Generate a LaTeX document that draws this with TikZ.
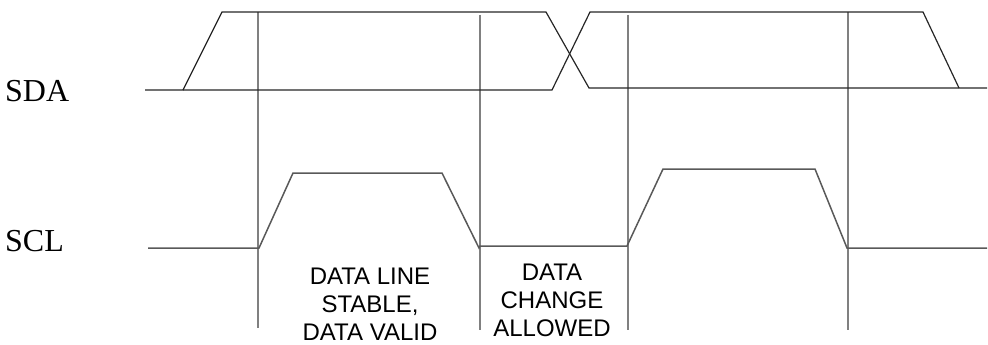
\documentclass[tikz,border=0pt]{standalone}
\usepackage{fontspec}
\setmainfont{Liberation Serif}
\newfontfamily\labelsans{Liberation Sans}
\begin{document}
\begin{tikzpicture}[x=1pt,y=-1pt,
  sda/.style={line width=1.2pt,black!85},
  scl/.style={line width=1.5pt,black!65},
  guide/.style={line width=1.7pt,black!50},
  siglabel/.style={anchor=base west,inner sep=0pt,font=\fontsize{32}{32}\selectfont},
  note/.style={anchor=north,inner sep=0pt,align=center,font=\labelsans\fontsize{24}{28}\selectfont}]
\useasboundingbox (0,0) rectangle (988,345);
% guide verticals
\draw[guide] (258,12) -- (258,328);
\draw[guide] (480,15) -- (480,330);
\draw[guide] (628,15) -- (628,330);
\draw[guide] (848,12) -- (848,330);
% SDA
\draw[sda] (145,90) -- (183,90) -- (222,12) -- (546,12) -- (589,88) -- (987,88);
\draw[sda] (183,90) -- (552,90) -- (590,12) -- (923,12) -- (959,88);
% SCL
\draw[scl] (148,248) -- (259,248) -- (293,173) -- (442,173) -- (479,248) -- (480,246) -- (627,246) -- (663,169) -- (815,169) -- (847,248) -- (987,248);
% labels
\node[siglabel] (sda) at (5,102) {SDA};
\node[siglabel] (scl) at (5,251) {SCL};
\node[note] (stable) at (370,268) {DATA LINE\\STABLE,\\DATA VALID};
\node[note] (change) at (552,264) {DATA\\CHANGE\\ALLOWED};
\end{tikzpicture}
\end{document}
